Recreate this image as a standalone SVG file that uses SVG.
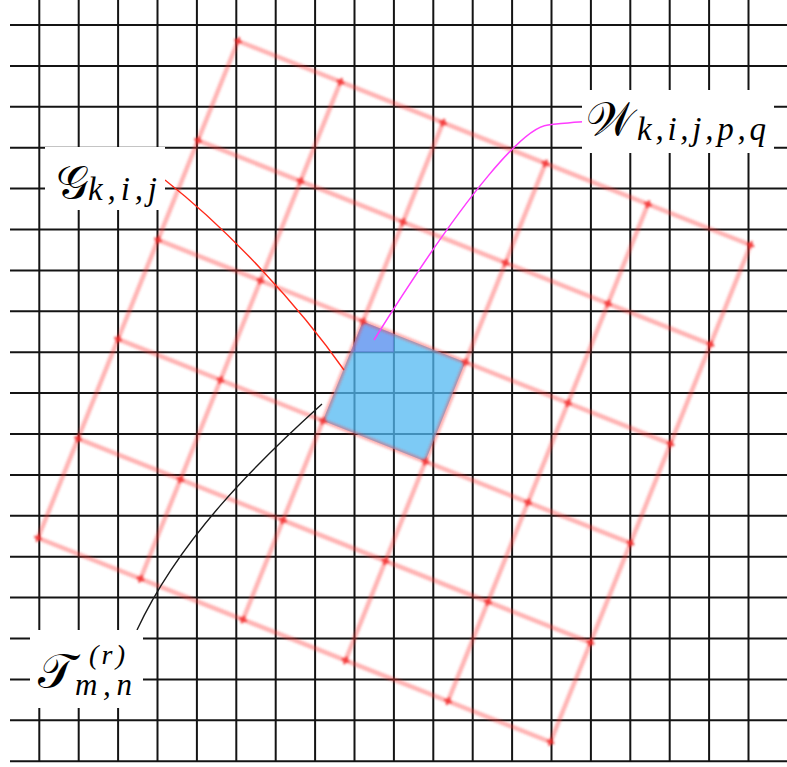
<svg xmlns="http://www.w3.org/2000/svg" xmlns:xlink="http://www.w3.org/1999/xlink" width="787" height="767" viewBox="0 0 787 767">
<defs>
<style>
.grid{fill:none;stroke:#141414;stroke-width:2}
.red{fill:none;stroke:#ff3b3b;stroke-opacity:0.38;stroke-width:4.5;stroke-linecap:round}
.mk{fill:none;stroke:#f02a2a;stroke-opacity:0.85;stroke-width:2.4}
.box{fill:#ffffff}
.cal{font-family:"DejaVu Serif","DejaVu Sans","Liberation Serif",serif;font-style:normal}
.sub{font-family:"Liberation Serif","Times New Roman",serif;font-style:italic}
</style>
<filter id="soft" x="-5%" y="-5%" width="110%" height="110%"><feGaussianBlur stdDeviation="0.9"/></filter>
<g id="mk"><path class="mk" d="M-3.7,-1.5L3.7,1.5M1.5,-3.7L-1.5,3.7"/></g>
</defs>
<rect width="787" height="767" fill="#ffffff"/>
<g id="grid">
<path class="grid" d="M10,25H787M10,65.9H787M10,106.8H787M10,147.7H787M10,188.6H787M10,229.5H787M10,270.4H787M10,311.3H787M10,352.2H787M10,393.1H787M10,434H787M10,474.9H787M10,515.8H787M10,556.7H787M10,597.6H787M10,638.5H787M10,679.4H787M10,720.3H787M10,761.2H787"/>
<path class="grid" d="M39.3,0V761.2M78.7,0V761.2M118.1,0V761.2M157.5,0V761.2M196.9,0V761.2M236.3,0V761.2M275.7,0V761.2M315.1,0V761.2M354.5,0V761.2M393.9,0V761.2M433.3,0V761.2M472.7,0V761.2M512.1,0V761.2M551.5,0V761.2M590.9,0V761.2M630.3,0V761.2M669.7,0V761.2M709.1,0V761.2M748.5,0V761.2"/>
</g>
<g id="cell">
<polygon points="362.8,321.4 465.3,362.2 425.3,461.6 322.8,420.8" fill="#52b8f2" fill-opacity="0.75"/>
<polygon points="362.8,321.4 393.9,333.8 393.9,352.2 350.4,352.2" fill="#7a7cf0" fill-opacity="0.45"/>
</g>
<g id="rotgrid" filter="url(#soft)">
<path class="red" d="M238,41L750.5,245M198,140.4L710.5,344.4M158,239.8L670.5,443.8M118,339.2L630.5,543.2M78,438.6L590.5,642.6M38,538L550.5,742"/>
<path class="red" d="M238,41L38,538M340.5,81.8L140.5,578.8M443,122.6L243,619.6M545.5,163.4L345.5,660.4M648,204.2L448,701.2M750.5,245L550.5,742"/>
<use xlink:href="#mk" x="238" y="41"/><use xlink:href="#mk" x="340.5" y="81.8"/><use xlink:href="#mk" x="443" y="122.6"/><use xlink:href="#mk" x="545.5" y="163.4"/><use xlink:href="#mk" x="648" y="204.2"/><use xlink:href="#mk" x="750.5" y="245"/>
<use xlink:href="#mk" x="198" y="140.4"/><use xlink:href="#mk" x="300.5" y="181.2"/><use xlink:href="#mk" x="403" y="222"/><use xlink:href="#mk" x="505.5" y="262.8"/><use xlink:href="#mk" x="608" y="303.6"/><use xlink:href="#mk" x="710.5" y="344.4"/>
<use xlink:href="#mk" x="158" y="239.8"/><use xlink:href="#mk" x="260.5" y="280.6"/><use xlink:href="#mk" x="363" y="321.4"/><use xlink:href="#mk" x="465.5" y="362.2"/><use xlink:href="#mk" x="568" y="403"/><use xlink:href="#mk" x="670.5" y="443.8"/>
<use xlink:href="#mk" x="118" y="339.2"/><use xlink:href="#mk" x="220.5" y="380"/><use xlink:href="#mk" x="323" y="420.8"/><use xlink:href="#mk" x="425.5" y="461.6"/><use xlink:href="#mk" x="528" y="502.4"/><use xlink:href="#mk" x="630.5" y="543.2"/>
<use xlink:href="#mk" x="78" y="438.6"/><use xlink:href="#mk" x="180.5" y="479.4"/><use xlink:href="#mk" x="283" y="520.2"/><use xlink:href="#mk" x="385.5" y="561"/><use xlink:href="#mk" x="488" y="601.8"/><use xlink:href="#mk" x="590.5" y="642.6"/>
<use xlink:href="#mk" x="38" y="538"/><use xlink:href="#mk" x="140.5" y="578.8"/><use xlink:href="#mk" x="243" y="619.6"/><use xlink:href="#mk" x="345.5" y="660.4"/><use xlink:href="#mk" x="448" y="701.2"/><use xlink:href="#mk" x="550.5" y="742"/>
</g>
<g id="connectors" fill="none">
<path d="M165,180C228,229.3 298.1,304.5 344,370" stroke="#ff2a1a" stroke-width="1.4"/>
<path d="M374,340C469.4,187 525,127 548,125C563,123.5 573,122 583,121.7" stroke="#ff3cff" stroke-width="1.5"/>
<path d="M137,630C179.3,539.4 255.1,464.2 322,404" stroke="#1a1a1a" stroke-width="1.4"/>
</g>
<g id="label-G">
<rect class="box" x="45" y="147" width="120" height="63"/>
<text class="cal" x="56" y="198" font-size="46">𝒢</text>
<text class="sub" x="88" y="200" font-size="33" textLength="69" lengthAdjust="spacing">k,i,j</text>
</g>
<g id="label-W">
<rect class="box" x="582" y="90" width="192" height="63"/>
<text class="cal" x="586" y="135" font-size="46">𝒲</text>
<text class="sub" x="637" y="140" font-size="33" textLength="129" lengthAdjust="spacing">k,i,j,p,q</text>
</g>
<g id="label-T">
<rect class="box" x="30" y="630" width="113" height="78"/>
<text class="cal" x="38" y="688" font-size="48">𝒯</text>
<text class="sub" font-size="28"><tspan x="89" y="664" textLength="36" lengthAdjust="spacing">(r)</tspan><tspan x="75" y="695" font-size="31" textLength="57" lengthAdjust="spacing">m,n</tspan></text>
</g>
</svg>
